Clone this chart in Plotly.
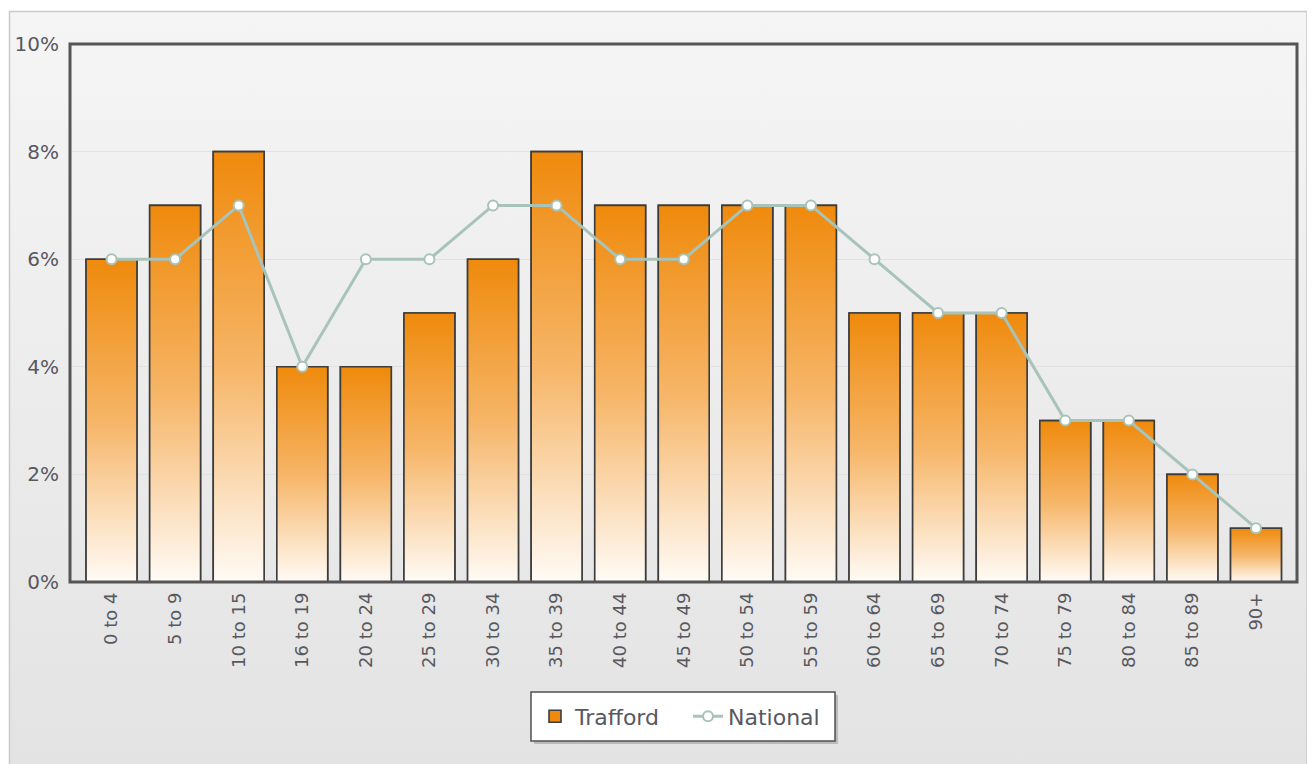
import base64
import plotly.graph_objects as go

categories = ["0 to 4", "5 to 9", "10 to 15", "16 to 19", "20 to 24", "25 to 29",
              "30 to 34", "35 to 39", "40 to 44", "45 to 49", "50 to 54", "55 to 59",
              "60 to 64", "65 to 69", "70 to 74", "75 to 79", "80 to 84", "85 to 89", "90+"]
trafford = [6, 7, 8, 4, 4, 5, 6, 8, 7, 7, 7, 7, 5, 5, 5, 3, 3, 2, 1]
national = [6, 6, 7, 4, 6, 6, 7, 7, 6, 6, 7, 7, 6, 5, 5, 3, 3, 2, 1]
y_ticks = [0, 2, 4, 6, 8, 10]
y_tick_labels = ["0%", "2%", "4%", "6%", "8%", "10%"]

BAR_W = 0.8
ORANGE = "#ef8a0c"
OUTLINE = "#3c3c3c"
LINE_C = "#a8c3b9"
FONT = "DejaVu Sans"
TXT = "#58585f"

idx = list(range(len(categories)))

fig = go.Figure()

# Bars (data marks, also legend entry)
fig.add_trace(go.Bar(
    x=idx, y=trafford, width=BAR_W, name="Trafford",
    marker=dict(color=ORANGE, line=dict(color=OUTLINE, width=1.6)),
    hoverinfo="x+y",
))

# Gradient fill overlay for each bar, derived from the same data
for i, v in zip(idx, trafford):
    h = BAR_W / 2
    fig.add_trace(go.Scatter(
        x=[i - h, i + h, i + h, i - h, i - h],
        y=[0, 0, v, v, 0],
        mode="lines", fill="toself",
        fillgradient=dict(type="vertical",
                          colorscale=[[0, "#fffbf6"], [0.5, "#f6b567"], [1, ORANGE]]),
        line=dict(color=OUTLINE, width=1.6),
        showlegend=False, hoverinfo="skip",
    ))

fig.add_trace(go.Scatter(
    x=idx, y=national, name="National", mode="lines+markers",
    line=dict(color=LINE_C, width=3),
    marker=dict(size=10, color="white", line=dict(color=LINE_C, width=2)),
))

# Background gradient panel
svg = ('<svg xmlns="http://www.w3.org/2000/svg" width="100" height="100" preserveAspectRatio="none">'
       '<defs><linearGradient id="g" x1="0" y1="0" x2="0" y2="1">'
       '<stop offset="0" stop-color="#f5f5f5"/><stop offset="1" stop-color="#e3e3e3"/>'
       '</linearGradient></defs><rect width="100" height="100" fill="url(#g)"/></svg>')
src = "data:image/svg+xml;base64," + base64.b64encode(svg.encode()).decode()

# page has an 8px body margin; figure sized to fill the rest of the window
OFF = 8
W, H = 1315 - OFF, 764 - OFF
PL, PR, PT, PB = 70, 1297, 44, 582        # plot area edges in window pixels
L, R, T, B = PL - OFF, 1315 - PR, PT - OFF, 764 - PB
pw, ph = PR - PL, PB - PT

def px_x(p):
    return (p - PL) / pw

def px_y(p):
    return (PB - p) / ph

fig.add_layout_image(dict(
    source=src, xref="paper", yref="paper",
    x=px_x(9), y=px_y(11), sizex=px_x(1308) - px_x(9), sizey=px_y(11) - px_y(770),
    xanchor="left", yanchor="top", sizing="stretch", layer="below",
))

# outer panel border
fig.add_shape(type="rect", xref="paper", yref="paper",
              x0=px_x(9.5), x1=px_x(1307), y0=px_y(800), y1=px_y(11.5),
              line=dict(color="#c9c9c9", width=1.5), layer="below")
# plot frame
fig.add_shape(type="rect", xref="paper", yref="paper",
              x0=0, x1=1, y0=0, y1=1,
              line=dict(color="#555555", width=3), layer="above")
# legend box shadow and box
LBX0, LBX1, LBY0, LBY1 = 531, 835, 692, 741
fig.add_shape(type="rect", xref="paper", yref="paper",
              x0=px_x(LBX0 + 3), x1=px_x(LBX1 + 3), y0=px_y(LBY1 + 3), y1=px_y(LBY0 + 3),
              line=dict(width=0), fillcolor="rgba(0,0,0,0.18)", layer="above")
fig.add_shape(type="rect", xref="paper", yref="paper",
              x0=px_x(LBX0), x1=px_x(LBX1), y0=px_y(LBY1), y1=px_y(LBY0),
              line=dict(color="#505050", width=1.5), fillcolor="white", layer="above")

fig.update_layout(
    width=W, height=H,
    margin=dict(l=L, r=R, t=T, b=B),
    paper_bgcolor="white",
    plot_bgcolor="rgba(0,0,0,0)",
    font=dict(family=FONT, color=TXT),
    showlegend=True,
    legend=dict(
        orientation="h", x=px_x((LBX0 + LBX1) / 2 + 5), xanchor="center",
        y=px_y((LBY0 + LBY1) / 2), yanchor="middle",
        bgcolor="rgba(0,0,0,0)", borderwidth=0,
        font=dict(family=FONT, size=22, color=TXT),
        itemwidth=30, entrywidth=108,
    ),
    xaxis=dict(
        range=[-0.653, 18.645], tickmode="array", tickvals=idx, ticktext=categories,
        tickangle=-90, tickfont=dict(family=FONT, size=18, color=TXT),
        showgrid=False, zeroline=False, ticks="", showline=False,
        ticklabelstandoff=6, automargin=False,
    ),
    yaxis=dict(
        range=[0, 10], tickmode="array", tickvals=y_ticks, ticktext=y_tick_labels,
        tickfont=dict(family=FONT, size=20, color=TXT),
        showgrid=True, gridcolor="#e1e1e1", gridwidth=1,
        zeroline=False, ticks="", showline=False, ticklabelstandoff=10,
        automargin=False,
    ),
)

fig.write_html("out.html")
